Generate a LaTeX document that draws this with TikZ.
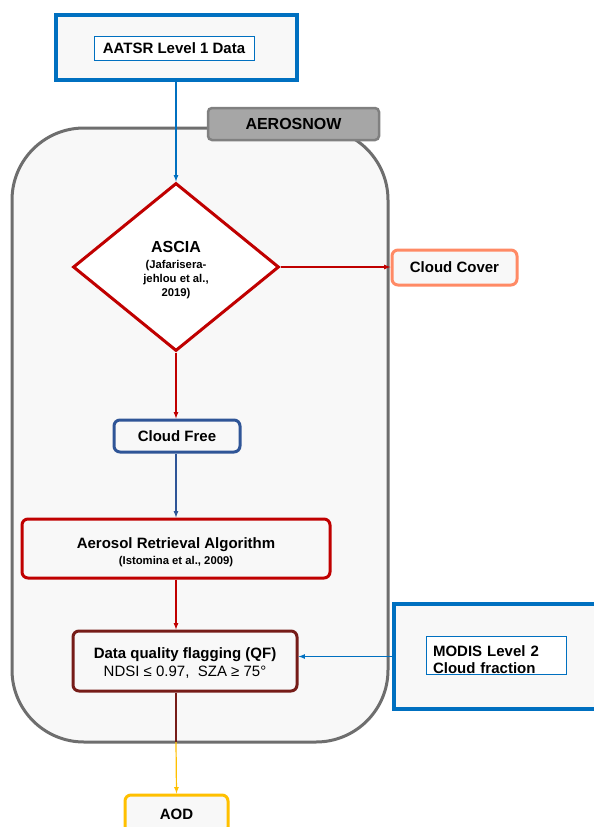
\documentclass[tikz,border=0pt]{standalone}
\usepackage{fontspec}
\setmainfont{Liberation Sans}
\usetikzlibrary{shapes, positioning, calc}
\definecolor{lblue}{RGB}{0,112,192}
\definecolor{dblue}{RGB}{47,85,151}
\definecolor{dred}{RGB}{192,0,0}
\definecolor{salmon}{RGB}{255,138,101}
\definecolor{maroon}{RGB}{118,28,24}
\definecolor{gold}{RGB}{255,192,0}
\definecolor{edgegray}{RGB}{110,110,110}
\definecolor{lblgray}{RGB}{166,166,166}
\definecolor{lbledge}{RGB}{128,128,128}
\definecolor{pale}{RGB}{248,248,248}
\tikzstyle{stagebox}=[draw, rounded corners=6pt, line width=3pt, fill=pale, align=center, inner sep=0pt, font=\bfseries\fontsize{15}{18}\selectfont]
\tikzstyle{srcbox}=[draw=lblue, line width=4pt, fill=pale, inner sep=0pt]
\tikzstyle{srctext}=[draw=lblue, line width=0.8pt, fill=white, inner sep=0pt, font=\bfseries\fontsize{15}{17}\selectfont]
\tikzstyle{flow}=[line width=1.2pt, -latex]

\begin{document}
\begin{tikzpicture}[x=1pt, y=-1pt]
\clip (0,0) rectangle (594,827);
\fill[white] (0,0) rectangle (594,827);
% AEROSNOW frame
\node [draw=edgegray, line width=3pt, fill=pale, rounded corners=72pt, minimum width=376pt, minimum height=614pt] (snow) at (200,435){};
\node [draw=lbledge, line width=2.5pt, fill=lblgray, rounded corners=4pt, minimum width=171pt, minimum height=32pt, font=\bfseries\fontsize{16}{18}\selectfont] (snowlbl) at (293.5,124){AEROSNOW};
% input sources
\node [srcbox, minimum width=241pt, minimum height=65pt] (aatsr) at (176.5,47.5){};
\node [srctext, minimum width=160pt, minimum height=24pt] (aatsrtxt) at (174,48){AATSR Level 1 Data};
\node [srcbox, minimum width=210pt, minimum height=105pt] (modis) at (499,656.5){};
\node [srctext, text width=126pt, minimum height=38pt, inner xsep=7pt, align=left] (modistxt) at (496,655){\rule{0pt}{20pt}MODIS Level 2\\Cloud fraction};
% processing chain
\node [diamond, draw=dred, line width=3pt, fill=white, minimum width=206pt, minimum height=168pt, inner sep=0pt, align=center, font=\bfseries\fontsize{11.3}{14}\selectfont] (ascia) at (176,267){{\fontsize{16}{14}\selectfont\rule{0pt}{18pt}ASCIA}\\[2pt](Jafarisera-\\jehlou et al.,\\2019)};
\node [stagebox, draw=salmon, minimum width=125pt, minimum height=35pt] (cover) at (454.5,267.5){Cloud Cover};
\node [stagebox, draw=dblue, minimum width=126pt, minimum height=32pt] (free) at (177,436){Cloud Free};
\node [stagebox, draw=dred, minimum width=308pt, minimum height=59pt] (aero) at (176,548.5){\rule{0pt}{19pt}Aerosol Retrieval Algorithm\\[-2pt]{\fontsize{11.3}{13}\selectfont (Istomina et al., 2009)}};
\node [stagebox, draw=maroon, minimum width=224pt, minimum height=60pt] (dq) at (185,661){\rule{0pt}{14pt}Data quality flagging (QF)\\[0pt]{\mdseries NDSI ≤ 0.97,\ \ SZA ≥ 75°}};
\node [stagebox, draw=gold, minimum width=103pt, minimum height=38pt] (aod) at (176.5,814){AOD};
\coordinate (exit) at (176,742);

\draw [flow, lblue] (aatsr.south -| ascia.north) -- (ascia.north);
\draw [flow, dred] (ascia.east) -- (ascia.east -| cover.west);
\draw [flow, dred] (ascia.south) -- (ascia.south |- free.north);
\draw [flow, dblue] (ascia.south |- free.south) -- (ascia.south |- aero.north);
\draw [flow, dred] (ascia.south |- aero.south) -- (ascia.south |- dq.north);
\draw [flow, lblue] (modis.west) -- (modis.west -| dq.east);
\draw [line width=1.2pt, maroon] (ascia.south |- dq.south) -- (exit);
\draw [flow, gold] (exit) -- (aod.north);
\end{tikzpicture}
\end{document}
